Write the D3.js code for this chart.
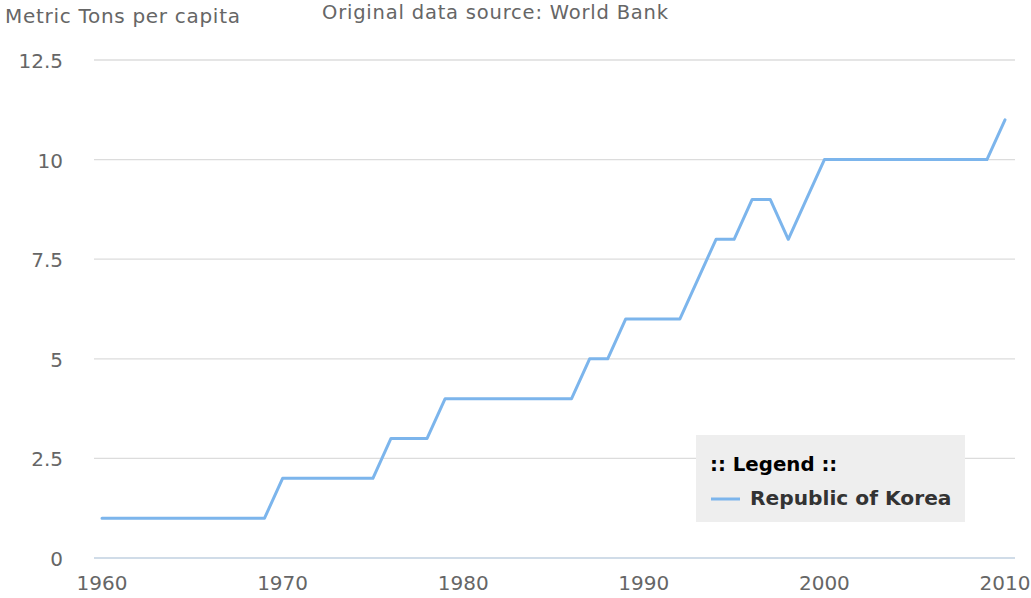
<!DOCTYPE html>
<html>
<head>
<meta charset="utf-8">
<script src="https://cdn.jsdelivr.net/npm/d3@7"></script>
<style>
  body { margin: 0; background: #fff; }
  svg { font-family: "DejaVu Sans", sans-serif; }
</style>
</head>
<body>
<script>
let width = 1031
let height = 598

// CO2 emissions, Republic of Korea
let years = d3.range(1960, 2011)
let emissions = [1,1,1,1,1,1,1,1,1,1,
    2,2,2,2,2,2,3,3,3,4,
    4,4,4,4,4,4,4,5,5,6,
    6,6,6,7,8,8,9,9,8,9,
    10,10,10,10,10,10,10,10,10,10,
    11]
let yTicks = [0, 2.5, 5, 7.5, 10, 12.5]
let xTicks = [1960, 1970, 1980, 1990, 2000, 2010]

let svg = d3.select("body")
    .append("svg")
    .attr("width", width)
    .attr("height", height)

let x = d3.scaleLinear()
    .domain([1960, 2010])
    .range([102, 1005])

let y = d3.scaleLinear()
    .domain([0, 12.5])
    .range([558, 60])

// grid
svg.append("g")
    .selectAll("line")
    .data(yTicks.filter(d => d > 0))
    .enter()
    .append("line")
    .attr("x1", 94)
    .attr("x2", 1015)
    .attr("y1", d => y(d))
    .attr("y2", d => y(d))
    .attr("stroke", "#dcdcdc")
    .attr("stroke-width", 1.3)

svg.append("line")
    .attr("x1", 94)
    .attr("x2", 1015)
    .attr("y1", y(0))
    .attr("y2", y(0))
    .attr("stroke", "#c0d0e0")
    .attr("stroke-width", 1.3)

// y labels
svg.append("g")
    .selectAll("text")
    .data(yTicks)
    .enter()
    .append("text")
    .attr("x", 63)
    .attr("y", d => y(d) + 8)
    .attr("text-anchor", "end")
    .attr("font-size", 20)
    .attr("fill", "#666")
    .text(d => d)

// x labels
svg.append("g")
    .selectAll("text")
    .data(xTicks)
    .enter()
    .append("text")
    .attr("x", d => x(d))
    .attr("y", 590)
    .attr("text-anchor", "middle")
    .attr("font-size", 20)
    .attr("fill", "#666")
    .text(d => d)

svg.append("text")
    .attr("x", 5)
    .attr("y", 23)
    .attr("font-size", 20)
    .attr("letter-spacing", 0.7)
    .attr("fill", "#666")
    .text("Metric Tons per capita")

svg.append("text")
    .attr("x", 322)
    .attr("y", 19)
    .attr("font-size", 19.5)
    .attr("letter-spacing", 0.8)
    .attr("fill", "#666")
    .text("Original data source: World Bank")

let line = d3.line()
    .x((d, i) => x(years[i]))
    .y(d => y(d))

svg.append("path")
    .datum(emissions)
    .attr("d", line)
    .attr("fill", "none")
    .attr("stroke", "#7cb5ec")
    .attr("stroke-width", 3)
    .attr("stroke-linejoin", "round")
    .attr("stroke-linecap", "round")

// legend
let lg = svg.append("g")
lg.append("rect")
    .attr("x", 696)
    .attr("y", 435)
    .attr("width", 269)
    .attr("height", 87)
    .attr("fill", "#eeeeee")
lg.append("text")
    .attr("x", 710)
    .attr("y", 471)
    .attr("font-size", 19.8)
    .attr("font-weight", "bold")
    .attr("fill", "#000")
    .text(":: Legend ::")
lg.append("line")
    .attr("x1", 711)
    .attr("x2", 740)
    .attr("y1", 499)
    .attr("y2", 499)
    .attr("stroke", "#7cb5ec")
    .attr("stroke-width", 3)
lg.append("text")
    .attr("x", 750)
    .attr("y", 505)
    .attr("font-size", 20.2)
    .attr("font-weight", "bold")
    .attr("fill", "#333")
    .text("Republic of Korea")
</script>
</body>
</html>
